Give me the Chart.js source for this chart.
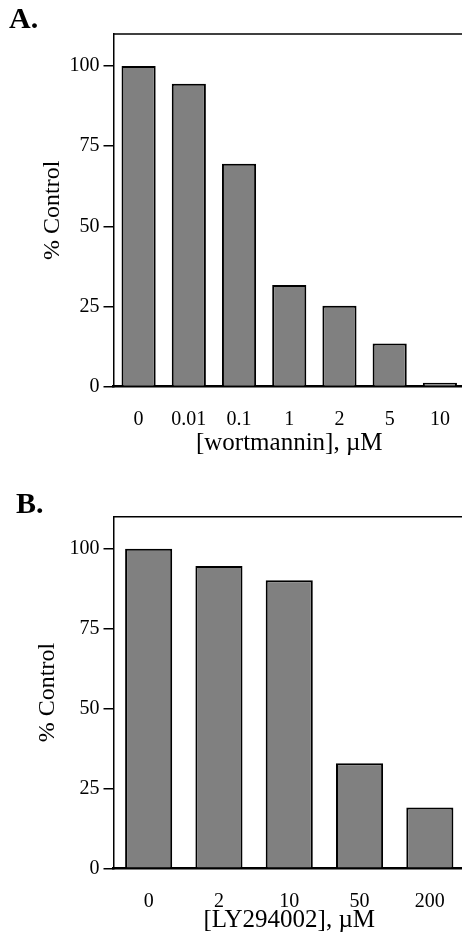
<!DOCTYPE html>
<html>
<head>
<meta charset="utf-8">
<script src="https://cdn.jsdelivr.net/npm/chart.js@4.4.0/dist/chart.umd.min.js"></script>
<style>
    html, body { margin: 0; padding: 0; background: #fff; overflow: hidden; }
    .panel { position: relative; width: 470px; }
    .tag { position: absolute; font-family: "Liberation Serif", serif; font-weight: bold; font-size: 30px; line-height: 1; color: #000; }
</style>
</head>
<body>
<div class="panel" style="height:470px">
    <div class="tag" style="left:9px; top:3px">A.</div>
    <canvas id="wort" width="470" height="470"></canvas>
</div>
<div class="panel" style="height:469px">
    <div class="tag" style="left:16px; top:18px">B.</div>
    <canvas id="ly" width="470" height="469"></canvas>
</div>
<script>
const wortLabels = ["0", "0.01", "0.1", "1", "2", "5", "10"];
const wortValues = [100, 94.5, 69.5, 31.7, 25.2, 13.4, 1.2];

const lyLabels = ["0", "2", "10", "50", "200"];
const lyValues = [100, 94.6, 90.1, 32.9, 19.0];

const yTicks = [0, 25, 50, 75, 100];

const serif = "'Liberation Serif', 'Times New Roman', serif";

// line along the top of the plot box
const topFrame = {
    id: 'topFrame',
    afterDraw(chart) {
        const a = chart.chartArea;
        const ctx = chart.ctx;
        ctx.save();
        ctx.strokeStyle = '#000';
        ctx.lineWidth = 1.5;
        ctx.beginPath();
        ctx.moveTo(a.left, a.top);
        ctx.lineTo(a.right + 5, a.top);
        ctx.stroke();
        ctx.restore();
    }
};

function createChart(div, labels, data, xTitle, box)
{
    const chartData =
    {
        labels: labels,
        datasets:
        [{
            data: data,
            backgroundColor: '#808080',
            borderColor: '#000',
            borderWidth: 2,
            borderSkipped: 'bottom',
            barPercentage: box.bar,
            categoryPercentage: 1
        }]
    };
    const config =
    {
        type: 'bar',
        data: chartData,
        plugins: [topFrame],
        options:
        {
            responsive: false,
            animation: false,
            events: [],
            layout: { padding: { top: box.top, right: 5, left: 0, bottom: 0 } },
            plugins: { legend: { display: false }, tooltip: { enabled: false } },
            scales:
            {
                x:
                {
                    grid: { display: false },
                    border: { display: true, color: '#000', width: 2.5 },
                    ticks: { color: '#000', padding: 13, font: { family: serif, size: 20 } },
                    title: {
                        display: true, text: xTitle, color: '#000',
                        font: { family: serif, size: 25 },
                        padding: { top: 0, bottom: box.xTitlePad }
                    },
                    afterFit: (scale) => { scale.height = box.xh; }
                },
                y:
                {
                    min: 0,
                    max: 110,
                    afterBuildTicks: (scale) => {
                        scale.ticks = yTicks.map(v => ({ value: v }));
                    },
                    grid: {
                        drawOnChartArea: false, drawTicks: true, tickLength: 10,
                        color: '#000', lineWidth: 1.5
                    },
                    border: { display: true, color: '#000', width: 1.5 },
                    ticks: { color: '#000', padding: 4, font: { family: serif, size: 20 } },
                    title: {
                        display: true, text: '% Control', color: '#000',
                        font: { family: serif, size: 24 },
                        padding: { top: box.yTitlePad, bottom: 0 }
                    },
                    afterFit: (scale) => { scale.width = 113.5; }
                }
            }
        }
    };
    const ctx = document.getElementById(div);
    new Chart(ctx, config);
}

createChart("wort", wortLabels, wortValues, "[wortmannin], \u00b5M",
    { top: 34, xh: 83.5, bar: 0.68, xTitlePad: 12, yTitlePad: 38 });
createChart("ly", lyLabels, lyValues, "[LY294002], \u00b5M",
    { top: 46.7, xh: 70.7, bar: 0.67, xTitlePad: 4, yTitlePad: 33.6 });
</script>
</body>
</html>
